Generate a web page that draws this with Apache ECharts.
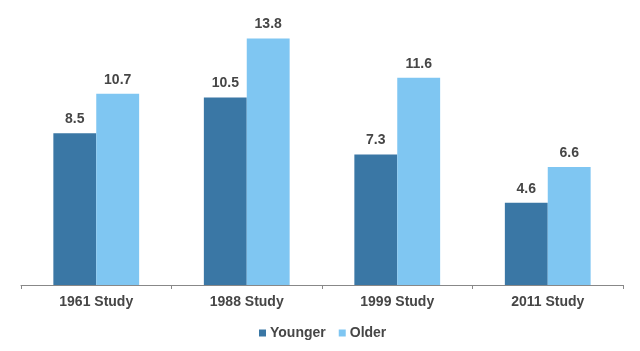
<!DOCTYPE html>
<html>
<head>
<meta charset="utf-8">
<script src="https://cdn.jsdelivr.net/npm/echarts@6/dist/echarts.min.js"></script>
<style>html,body{margin:0;padding:0;background:#fff}#c{width:640px;height:351px}</style>
</head>
<body>
<div id="c"></div>
<script>
var categories = ['1961 Study', '1988 Study', '1999 Study', '2011 Study'];
var younger = [8.5, 10.5, 7.3, 4.6];
var older = [10.7, 13.8, 11.6, 6.6];
var seriesNames = ['Younger', 'Older'];

var chart = echarts.init(document.getElementById('c'), null, {renderer: 'canvas'});
var labelStyle = {
  show: true, position: 'top', distance: 7,
  fontFamily: 'Liberation Sans, Arial, sans-serif', fontWeight: 'bold', fontSize: 14, color: '#464646',
  formatter: function (p) { return p.value.toFixed(1); }
};
chart.setOption({
  animation: false,
  grid: {left: 21, right: 17, top: 17, bottom: 66},
  legend: {
    data: seriesNames, left: 259, top: 326, padding: 0, itemWidth: 7, itemHeight: 7, itemGap: 13,
    icon: 'rect',
    textStyle: {fontFamily: 'Liberation Sans, Arial, sans-serif', fontWeight: 'bold', fontSize: 14, color: '#464646', padding: [0, 0, 0, -1]}
  },
  xAxis: {
    type: 'category', data: categories,
    axisLine: {lineStyle: {color: '#888888', width: 1}},
    axisTick: {show: true, length: 4, lineStyle: {color: '#888888'}},
    axisLabel: {margin: 10, fontFamily: 'Liberation Sans, Arial, sans-serif', fontWeight: 'bold', fontSize: 14, color: '#464646'}
  },
  yAxis: {type: 'value', min: 0, max: 15, show: false, splitLine: {show: false}},
  series: [
    {name: seriesNames[0], type: 'bar', data: younger, barWidth: '28.5%', barGap: '0%', itemStyle: {color: '#3a77a5'}, label: labelStyle},
    {name: seriesNames[1], type: 'bar', data: older, barWidth: '28.5%', barGap: '0%', itemStyle: {color: '#7fc6f2'}, label: labelStyle}
  ]
});
</script>
</body>
</html>
